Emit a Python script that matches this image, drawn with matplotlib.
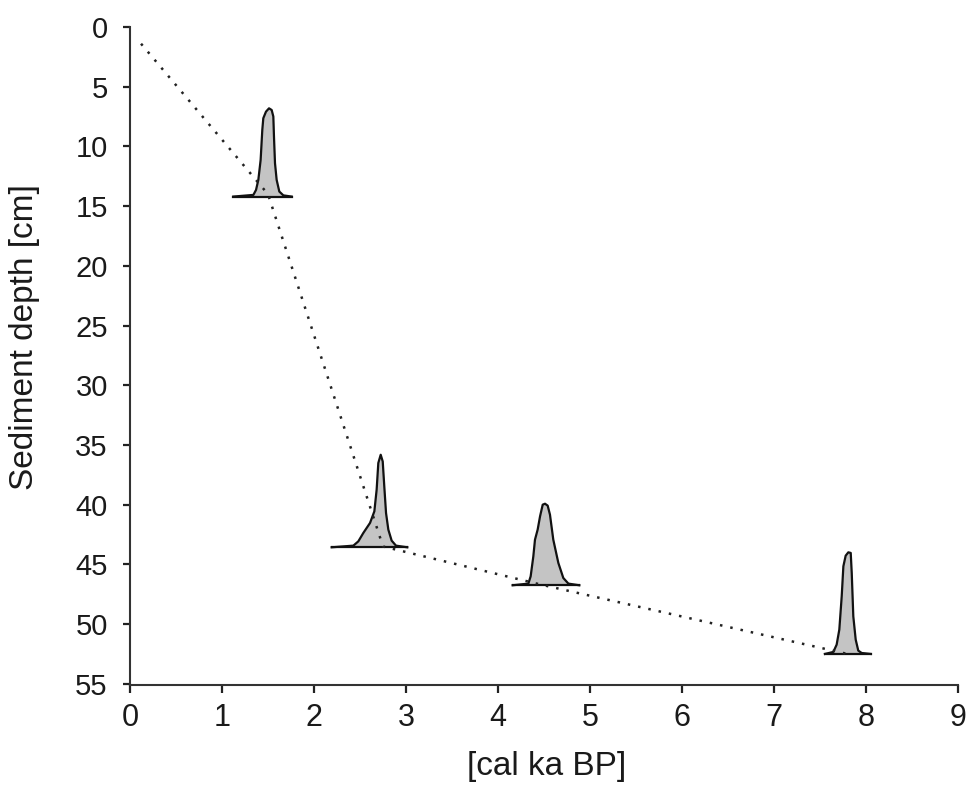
import matplotlib
matplotlib.use("Agg")
import matplotlib.pyplot as plt

plt.rcParams['font.family'] = ['Liberation Sans', 'DejaVu Sans']

# age-depth model (dotted line)
model_age = [0.12, 1.5, 2.75, 4.47, 7.8]
model_depth = [1.4, 14.0, 43.5, 46.7, 52.5]

# calibrated age distributions: depth of sample, ages [cal ka BP], relative probability
d1_depth = 14.2
d1_age = [1.123, 1.341, 1.370, 1.395, 1.420, 1.438, 1.449, 1.478, 1.511, 1.540,
          1.558, 1.565, 1.576, 1.594, 1.623, 1.667, 1.757]
d1_prob = [0, 0.14, 0.56, 1.4, 3.07, 5.58, 6.56, 7.11, 7.39, 7.25,
           6.7, 5.02, 2.8, 1.4, 0.42, 0.1, 0]

d2_depth = 43.57
d2_age = [2.192, 2.428, 2.482, 2.536, 2.609, 2.656, 2.681, 2.699, 2.725, 2.747,
          2.764, 2.783, 2.808, 2.844, 2.891, 3.014]
d2_prob = [0, 0.14, 0.5, 1.2, 2.04, 3.01, 4.83, 7.06, 7.75, 7.19,
           5.1, 2.87, 1.48, 0.56, 0.14, 0]

d3_depth = 46.75
d3_age = [4.159, 4.330, 4.355, 4.384, 4.402, 4.431, 4.457, 4.486, 4.511, 4.540,
          4.565, 4.601, 4.656, 4.710, 4.765, 4.884]
d3_prob = [0, 0.14, 0.75, 2.42, 3.82, 4.66, 5.77, 6.75, 6.83, 6.67,
           5.91, 3.82, 1.87, 0.61, 0.14, 0]

d4_depth = 52.5
d4_age = [7.554, 7.645, 7.681, 7.710, 7.736, 7.754, 7.779, 7.808, 7.834, 7.845,
          7.862, 7.888, 7.916, 7.953, 8.051]
d4_prob = [0, 0.17, 0.78, 2.04, 4.83, 7.34, 8.23, 8.51, 8.46, 6.78,
           3.15, 1.2, 0.28, 0.08, 0]

dists = [(d1_depth, d1_age, d1_prob), (d2_depth, d2_age, d2_prob),
         (d3_depth, d3_age, d3_prob), (d4_depth, d4_age, d4_prob)]

fig = plt.figure(figsize=(9.68, 7.89), dpi=100)
ax = fig.add_axes([130/968, 1-685/789, 828/968, 658/789])

for depth, age, prob in dists:
    top = [depth - p for p in prob]
    ax.fill_between(age, top, depth, color='#c4c4c4', lw=0, zorder=2)
    ax.plot(age, top, color='#111111', lw=1.6, zorder=3)
    ax.plot([age[0], age[-1]], [depth, depth], color='#111111', lw=1.6, zorder=3)

ax.plot(model_age, model_depth, color='#222222', lw=1.8,
        linestyle=(0, (1, 3.2)), zorder=4)

ax.set_xlim(0, 9)
ax.set_ylim(55.1, 0)
ax.set_xticks(range(0, 10))
ax.set_yticks(range(0, 56, 5))

for s in ['top', 'right']:
    ax.spines[s].set_visible(False)
for s in ['left', 'bottom']:
    ax.spines[s].set_color('#333333')
    ax.spines[s].set_linewidth(1.5)

ax.tick_params(axis='y', length=5, width=1.6, color='#222222', pad=11, labelsize=21,
               labelcolor='#1a1a1a')
ax.tick_params(axis='x', length=6, width=1.6, color='#222222', pad=7, labelsize=22,
               labelcolor='#1a1a1a')

fig.text(547/968, 1-767/789, '[cal ka BP]', ha='center', va='center', fontsize=24,
         color='#1a1a1a')
fig.text(25/968, 1-337/789, 'Sediment depth [cm]', ha='center', va='center',
         rotation=90, fontsize=24, color='#1a1a1a')

fig.savefig('out.png', dpi=100)
